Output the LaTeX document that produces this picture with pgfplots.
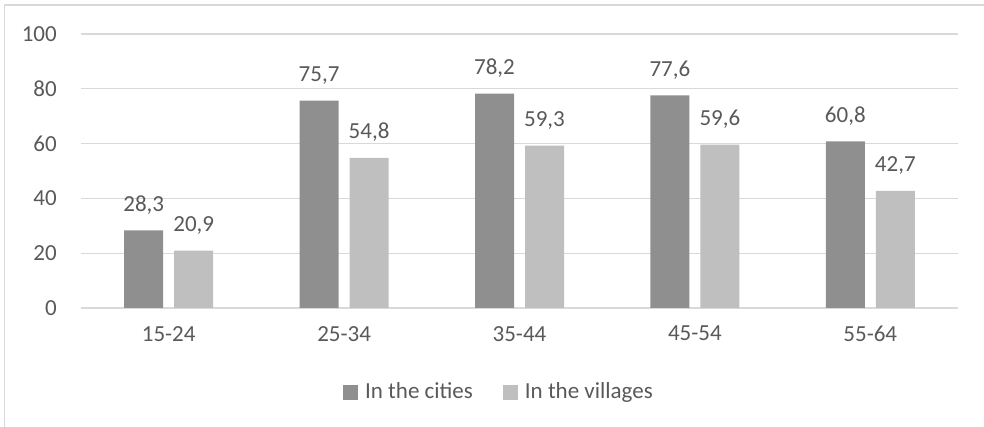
\documentclass[border=0pt]{standalone}
\usepackage{fontspec}
\setmainfont{Carlito}
\usepackage{pgfplots}
\pgfplotsset{compat=1.18}
\definecolor{cityc}{HTML}{8F8F8F}
\definecolor{villc}{HTML}{BFBFBF}
\definecolor{gridc}{HTML}{D9D9D9}
\definecolor{txt}{HTML}{595959}
\newcommand{\chartfont}{\fontsize{23}{27.6}\selectfont}

\begin{document}
\chartfont
\begin{tikzpicture}
\begin{axis}[
  at={(0pt,0pt)}, anchor=south west,
  scale only axis, width=877pt, height=274pt,
  ymin=0, ymax=100, ytick={0,20,...,100},
  xmin=-0.5, xmax=4.5, xtick={0,...,4},
  xticklabels={15-24,25-34,35-44,45-54,55-64},
  ybar=11pt, bar width=39pt,
  axis line style={draw=none},
  major tick length=0pt,
  ymajorgrids, grid style={gridc, line width=1.3pt},
  /pgf/number format/assume math mode=true,
  tick label style={font=\chartfont, text=txt},
  yticklabel style={inner sep=0pt, xshift=-24pt},
  xticklabel style={inner sep=0pt, yshift=-18pt},
  nodes near coords,
  every node near coord/.append style={
    /pgf/number format/fixed, /pgf/number format/fixed zerofill,
    /pgf/number format/precision=1, /pgf/number format/use comma,
    /pgf/number format/assume math mode=true,
    font=\chartfont, text=txt, anchor=base, inner sep=0pt, yshift=19pt},
  legend style={at={(0.4766,-0.3066)}, anchor=center, draw=none, fill=none,
    legend columns=2, font=\chartfont, text=txt,
    /tikz/every even column/.append style={column sep=28pt}},
]
\addplot[fill=cityc, draw=none,
  legend image code/.code={\fill[cityc] (0pt,-7.5pt) rectangle (15pt,7.5pt);
    \path (20pt,0pt);}]
  coordinates {(0,28.3) (1,75.7) (2,78.2) (3,77.6) (4,60.8)};
\addplot[fill=villc, draw=none,
  legend image code/.code={\fill[villc] (0pt,-7.5pt) rectangle (15pt,7.5pt);
    \path (20pt,0pt);}]
  coordinates {(0,20.9) (1,54.8) (2,59.3) (3,59.6) (4,42.7)};
\legend{In the cities, In the villages}
\end{axis}
% chart area border (top and left edges)
\draw[gridc, line width=1.2pt] (-76.5pt,-130pt) -- (-76.5pt,303pt) -- (910pt,303pt);
\pgfresetboundingbox
\useasboundingbox (-81pt,-119pt) rectangle (903pt,308pt);
\end{tikzpicture}
\end{document}
